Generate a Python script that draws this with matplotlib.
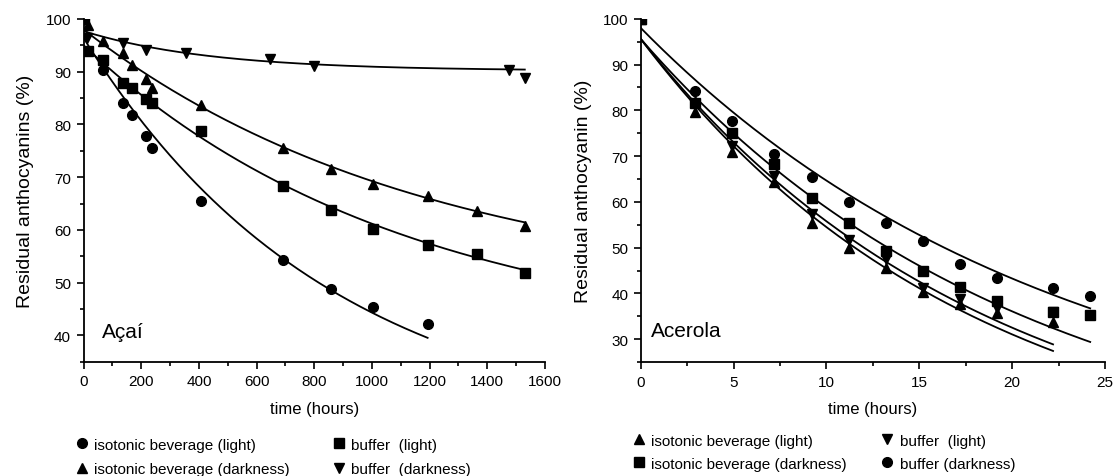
import numpy as np
import matplotlib
matplotlib.use("Agg")
from matplotlib import pyplot as plt
from matplotlib.lines import Line2D
from matplotlib.ticker import MultipleLocator

plt.rcParams['font.family'] = ['Liberation Sans', 'DejaVu Sans']

# Acai data (time in hours, residual anthocyanins in %)
acai_bev_light_t = [0, 68, 136, 167, 215, 237, 406, 692, 859, 1002, 1193]
acai_bev_light_y = [100, 90.4, 84.1, 81.7, 77.8, 75.6, 65.5, 54.2, 48.8, 45.4, 42.1]

acai_bev_dark_t = [0, 16, 68, 136, 167, 215, 237, 406, 692, 859, 1002, 1193, 1363, 1530]
acai_bev_dark_y = [100, 98.8, 95.9, 93.5, 91.3, 88.6, 87.0, 83.7, 75.6, 71.6, 68.7, 66.5, 63.6, 60.8]

acai_buf_light_t = [0, 16, 68, 136, 167, 215, 237, 406, 692, 859, 1002, 1193, 1363, 1530]
acai_buf_light_y = [100, 94.0, 92.2, 87.9, 87.0, 84.8, 84.1, 78.8, 68.3, 63.7, 60.1, 57.2, 55.4, 51.9]

acai_buf_dark_t = [0, 12, 136, 215, 356, 645, 800, 1474, 1530]
acai_buf_dark_y = [100, 96.3, 95.5, 94.2, 93.6, 92.4, 91.1, 90.3, 88.9]

# Acai fitted curves y = c + a*exp(-k t), order: bev light, bev dark, buf light, buf dark
acai_fit_c = [20.45, 47.5, 38.0, 90.17]
acai_fit_a = [75.95, 50.5, 57.0, 7.53]
acai_fit_k = [0.001158, 0.000842, 0.0009, 0.00226]

# Acerola data (time in hours)
acer_t = [0, 2.9, 4.9, 7.2, 9.2, 11.2, 13.2, 15.2, 17.2, 19.2, 22.2, 24.2]
acer_bev_light_y = [100, 79.6, 70.8, 64.3, 55.4, 50.0, 45.6, 40.3, 37.6, 35.8, 33.8]
acer_bev_dark_y = [100, 81.6, 75.1, 68.2, 60.8, 55.3, 49.3, 44.9, 41.5, 38.4, 35.9, 35.4]
acer_buf_light_y = [100, 81.2, 72.3, 65.7, 57.3, 51.7, 47.6, 41.1, 38.7, 36.9, 36.0]
acer_buf_dark_y = [100, 84.2, 77.6, 70.4, 65.4, 60.0, 55.4, 51.4, 46.4, 43.4, 41.1, 39.4]

# Acerola fitted curves, same order
acer_fit_c = [0, 0, 0, 5]
acer_fit_a = [95.6, 95.6, 95.6, 93.0]
acer_fit_k = [0.0562, 0.0487, 0.0539, 0.0444]


def plot_series(ax, t, y, c, a, k, marker, label):
    x_bf = np.linspace(0, max(t), 200)
    ax.plot(x_bf, c + a * np.exp(-k * x_bf), color='black', lw=1.3, zorder=2)
    ax.plot(t, y, linestyle='none', marker=marker, color='black', ms=7, zorder=3)
    return Line2D([], [], linestyle='none', marker=marker, color='black', ms=7, label=label)


def style_axes(ax, xmaj, xmin):
    for s in ['top', 'right']:
        ax.spines[s].set_visible(False)
    for s in ['left', 'bottom']:
        ax.spines[s].set_linewidth(1.3)
    ax.xaxis.set_major_locator(MultipleLocator(xmaj))
    ax.xaxis.set_minor_locator(MultipleLocator(xmin))
    ax.yaxis.set_major_locator(MultipleLocator(10))
    ax.yaxis.set_minor_locator(MultipleLocator(5))
    ax.tick_params(which='major', direction='out', length=5, width=1.2, labelsize=11, pad=4)
    ax.tick_params(which='minor', direction='out', length=3, width=1.2)
    ax.set_xlabel('time (hours)', fontsize=12, labelpad=9)


def main():
    fig = plt.figure(figsize=(11.17, 4.77), dpi=100)
    ax1 = fig.add_axes([0.0748, 0.2396, 0.4131, 0.7185])
    ax2 = fig.add_axes([0.5736, 0.2386, 0.4157, 0.72])

    # Acai
    h1 = plot_series(ax1, acai_bev_light_t, acai_bev_light_y, acai_fit_c[0], acai_fit_a[0],
                     acai_fit_k[0], 'o', 'isotonic beverage (light)')
    h2 = plot_series(ax1, acai_bev_dark_t, acai_bev_dark_y, acai_fit_c[1], acai_fit_a[1],
                     acai_fit_k[1], '^', 'isotonic beverage (darkness)')
    h3 = plot_series(ax1, acai_buf_light_t, acai_buf_light_y, acai_fit_c[2], acai_fit_a[2],
                     acai_fit_k[2], 's', 'buffer  (light)')
    h4 = plot_series(ax1, acai_buf_dark_t, acai_buf_dark_y, acai_fit_c[3], acai_fit_a[3],
                     acai_fit_k[3], 'v', 'buffer  (darkness)')
    ax1.set_xlim(0, 1600)
    ax1.set_ylim(35, 100)
    style_axes(ax1, 200, 100)
    ax1.set_ylabel('Residual anthocyanins (%)', fontsize=14, labelpad=8)
    ax1.text(0.04, 0.072, 'Açaí', fontsize=15, transform=ax1.transAxes, va='baseline')
    ax1.legend(handles=[h1, h2, h3, h4], ncol=2, frameon=False, fontsize=11,
               loc='upper left', bbox_to_anchor=(-0.03, -0.204),
               handlelength=0.8, handletextpad=0.4, columnspacing=2.8,
               labelspacing=0.7, borderaxespad=0)

    # Acerola
    n = len(acer_bev_light_y)
    g1 = plot_series(ax2, acer_t[:n], acer_bev_light_y, acer_fit_c[0], acer_fit_a[0],
                     acer_fit_k[0], '^', 'isotonic beverage (light)')
    g2 = plot_series(ax2, acer_t, acer_bev_dark_y, acer_fit_c[1], acer_fit_a[1],
                     acer_fit_k[1], 's', 'isotonic beverage (darkness)')
    g3 = plot_series(ax2, acer_t[:n], acer_buf_light_y, acer_fit_c[2], acer_fit_a[2],
                     acer_fit_k[2], 'v', 'buffer  (light)')
    g4 = plot_series(ax2, acer_t, acer_buf_dark_y, acer_fit_c[3], acer_fit_a[3],
                     acer_fit_k[3], 'o', 'buffer (darkness)')
    ax2.set_xlim(0, 25)
    ax2.set_ylim(25, 100)
    style_axes(ax2, 5, 2.5)
    ax2.set_ylabel('Residual anthocyanin (%)', fontsize=14, labelpad=8)
    ax2.text(0.0215, 0.0775, 'Acerola', fontsize=15, transform=ax2.transAxes, va='baseline')
    ax2.legend(handles=[g1, g2, g3, g4], ncol=2, frameon=False, fontsize=11,
               loc='upper left', bbox_to_anchor=(-0.03, -0.19),
               handlelength=0.8, handletextpad=0.4, columnspacing=2.25,
               labelspacing=0.6, borderaxespad=0)

    fig.savefig('out.png', dpi=100)


if __name__ == '__main__':
    main()
